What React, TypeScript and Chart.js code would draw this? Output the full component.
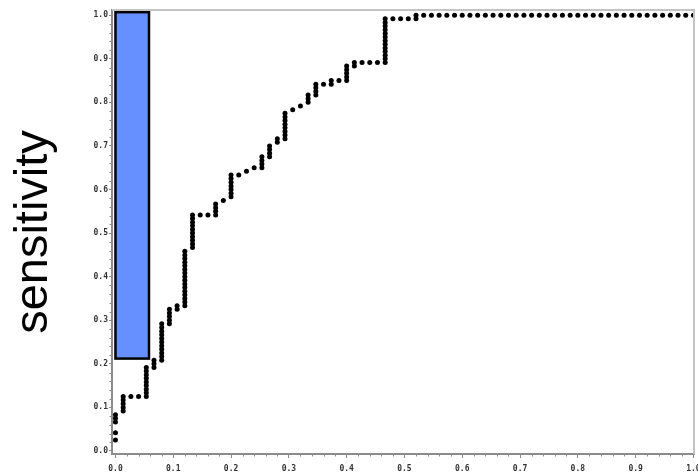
import React, { useEffect, useRef } from 'react';
import { Chart, registerables } from 'chart.js';

Chart.register(...registerables);

// ROC counts: number of negatives / positives in the sample
const NEGATIVES = 75;
const POSITIVES = 120;

// true-positive counts observed at each false-positive count (index = false positives)
const truePositivesByFalsePositives: number[][] = [
  [3, 5, 8, 9, 10],
  [11, 12, 13, 14, 15],
  [15],
  [15],
  [15, 16, 17, 18, 19, 20, 21, 22, 23],
  [23, 24, 25],
  [25, 26, 27, 28, 29, 30, 31, 32, 33, 34, 35],
  [35, 36, 37, 38, 39],
  [39, 40],
  [40, 41, 42, 43, 44, 45, 46, 47, 48, 49, 50, 51, 52, 53, 54, 55],
  [56, 57, 58, 59, 60, 61, 62, 63, 64, 65],
  [65],
  [65],
  [65, 66, 67, 68],
  [69],
  [70, 71, 72, 73, 74, 75, 76],
  [76],
  [77],
  [78],
  [78, 79, 80, 81],
  [81, 82, 83, 84],
  [85, 86],
  [86, 87, 88, 89, 90, 91, 92, 93],
  [94],
  [95],
  [96, 97, 98],
  [98, 99, 100, 101],
  [101],
  [101, 102],
  [102],
  [102, 103, 104, 105, 106],
  [106, 107],
  [107],
  [107],
  [107],
  [107, 108, 109, 110, 111, 112, 113, 114, 115, 116, 117, 118, 119],
  [119],
  [119],
  [119],
  [119, 120],
  [120], [120], [120], [120], [120], [120], [120], [120], [120], [120],
  [120], [120], [120], [120], [120], [120], [120], [120], [120], [120],
  [120], [120], [120], [120], [120], [120], [120], [120], [120], [120],
  [120], [120], [120], [120], [120], [120],
];

// highlighted region (1 - specificity range, sensitivity range)
const highlightFpr = [0, 0.058];
const highlightSensitivity = [0.212, 1.007];

// axis ranges and ticks
const xRange = [-0.006, 1.001];
const yRange = [-0.007, 1.012];
const majorStep = 0.1;
const minorStep = 0.02;

const AXIS_COLOR = '#8c8c8c';
const FRAME_COLOR = '#c4c4c4';

const decorPlugin = {
  id: 'decor',
  beforeDatasetsDraw(chart: any) {
    const { ctx, scales } = chart;
    const x = scales.x;
    const y = scales.y;
    const x0 = x.getPixelForValue(highlightFpr[0]);
    const x1 = x.getPixelForValue(highlightFpr[1]);
    const y0 = y.getPixelForValue(highlightSensitivity[0]);
    const y1 = y.getPixelForValue(highlightSensitivity[1]);
    ctx.save();
    ctx.fillStyle = '#6690ff';
    ctx.fillRect(x0, y1, x1 - x0, y0 - y1);
    ctx.lineWidth = 2.5;
    ctx.strokeStyle = '#000';
    ctx.strokeRect(x0, y1, x1 - x0, y0 - y1);
    ctx.restore();
  },
  afterDraw(chart: any) {
    const { ctx, chartArea, scales } = chart;
    const x = scales.x;
    const y = scales.y;
    ctx.save();
    // top and right frame
    ctx.strokeStyle = FRAME_COLOR;
    ctx.lineWidth = 2;
    ctx.beginPath();
    ctx.moveTo(chartArea.left, chartArea.top);
    ctx.lineTo(chartArea.right, chartArea.top);
    ctx.lineTo(chartArea.right, chartArea.bottom);
    ctx.stroke();
    // minor ticks
    ctx.strokeStyle = AXIS_COLOR;
    ctx.lineWidth = 1;
    ctx.beginPath();
    const n = Math.round(1 / minorStep);
    for (let i = 0; i <= n; i++) {
      if (i % Math.round(majorStep / minorStep) === 0) continue;
      const v = i * minorStep;
      const px = Math.round(x.getPixelForValue(v)) + 0.5;
      ctx.moveTo(px, chartArea.bottom);
      ctx.lineTo(px, chartArea.bottom + 2.5);
      const py = Math.round(y.getPixelForValue(v)) + 0.5;
      ctx.moveTo(chartArea.left, py);
      ctx.lineTo(chartArea.left - 2.5, py);
    }
    ctx.stroke();
    ctx.restore();
  },
};

const tickFont = { family: 'DejaVu Sans Mono', size: 8, weight: 'bold' as const };

export default function App() {
  const canvasRef = useRef<HTMLCanvasElement | null>(null);

  useEffect(() => {
    if (!canvasRef.current) return;
    const points: { x: number; y: number }[] = [];
    truePositivesByFalsePositives.forEach((tps, fp) => {
      tps.forEach((tp) => points.push({ x: fp / NEGATIVES, y: tp / POSITIVES }));
    });

    const chart = new Chart(canvasRef.current, {
      type: 'scatter',
      data: {
        datasets: [
          {
            data: points,
            pointRadius: 2.5,
            pointBackgroundColor: '#000',
            pointBorderWidth: 0,
            pointHoverRadius: 2.5,
            showLine: false,
          },
        ],
      },
      options: {
        animation: false,
        responsive: false,
        events: [],
        layout: { padding: { top: 10, right: 4, left: 0, bottom: 0 } },
        plugins: {
          legend: { display: false },
          tooltip: { enabled: false },
        },
        scales: {
          x: {
            type: 'linear',
            min: xRange[0],
            max: xRange[1],
            afterFit(s: any) {
              s.height = 18;
              s.paddingLeft = 0;
              s.paddingRight = 0;
            },
            grid: {
              display: true,
              drawOnChartArea: false,
              drawTicks: true,
              tickLength: 4,
              color: AXIS_COLOR,
              lineWidth: 1,
            },
            border: { display: true, color: AXIS_COLOR, width: 2 },
            ticks: {
              stepSize: majorStep,
              includeBounds: false,
              autoSkip: false,
              maxRotation: 0,
              padding: 6,
              color: '#333',
              font: tickFont,
              callback: (v: any) => Number(v).toFixed(1),
            },
          },
          y: {
            type: 'linear',
            min: yRange[0],
            max: yRange[1],
            afterFit(s: any) {
              s.width = 112;
              s.paddingTop = 0;
              s.paddingBottom = 0;
            },
            grid: {
              display: true,
              drawOnChartArea: false,
              drawTicks: true,
              tickLength: 3,
              color: AXIS_COLOR,
              lineWidth: 1,
            },
            border: { display: true, color: AXIS_COLOR, width: 2 },
            title: {
              display: true,
              text: 'sensitivity',
              color: '#000',
              font: { family: 'Liberation Sans', size: 47, weight: 'normal' },
              padding: { top: 6, bottom: 0 },
            },
            ticks: {
              stepSize: majorStep,
              includeBounds: false,
              autoSkip: false,
              padding: 1,
              color: '#333',
              font: tickFont,
              callback: (v: any) => Number(v).toFixed(1),
            },
          },
        },
      },
      plugins: [decorPlugin],
    });
    return () => chart.destroy();
  }, []);

  return (
    <div style={{ position: 'fixed', left: 0, top: 0, width: 698, height: 472, background: '#fff' }}>
      <canvas ref={canvasRef} width={698} height={472} style={{ display: 'block' }} />
    </div>
  );
}
